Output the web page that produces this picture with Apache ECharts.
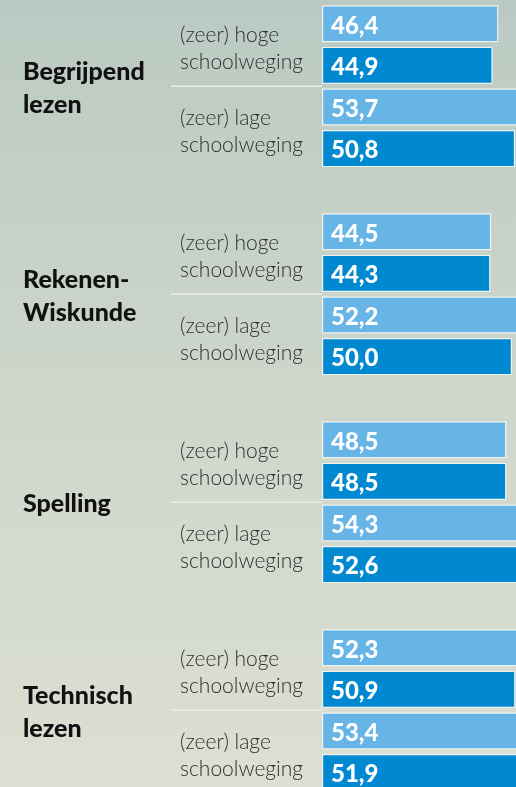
<!DOCTYPE html>
<html>
<head>
<meta charset="utf-8">
<script src="https://cdn.jsdelivr.net/npm/echarts@6/dist/echarts.min.js"></script>
<style>
  html, body { margin: 0; padding: 0; }
  #main { width: 516px; height: 787px; }
</style>
</head>
<body>
<div id="main"></div>
<script>
// vakgebieden en groepen
var vakken = ['Begrijpend\nlezen', 'Rekenen-\nWiskunde', 'Spelling', 'Technisch\nlezen'];
var groepen = ['(zeer) hoge\nschoolweging', '(zeer) lage\nschoolweging'];

// scores per vak (licht = bovenste balk, donker = onderste balk)
var hogeLicht = [46.4, 44.5, 48.5, 52.3];
var hogeDonker = [44.9, 44.3, 48.5, 50.9];
var lageLicht = [53.7, 52.2, 54.3, 53.4];
var lageDonker = [50.8, 50.0, 52.6, 51.9];

// rijen opbouwen: 4 balken per vak, lege rij ertussen
let rows = [];
let lichtData = [];
let donkerData = [];
for (let v = 0; v < vakken.length; v++) {
  rows.push(v + '-hl'); lichtData.push(hogeLicht[v]); donkerData.push(null);
  rows.push(v + '-hd'); lichtData.push(null); donkerData.push(hogeDonker[v]);
  rows.push(v + '-ll'); lichtData.push(lageLicht[v]); donkerData.push(null);
  rows.push(v + '-ld'); lichtData.push(null); donkerData.push(lageDonker[v]);
  if (v < vakken.length - 1) {
    rows.push(v + '-gap'); lichtData.push(null); donkerData.push(null);
  }
}

let valueLabel = {
  show: true,
  position: 'insideLeft',
  distance: 9,
  offset: [0, 2],
  color: '#fff',
  fontFamily: 'Lato',
  fontWeight: 900,
  fontSize: 24,
  formatter: function (p) {
    return p.value == null ? '' : p.value.toFixed(1).replace('.', ',');
  }
};

let option = {
  animation: false,
  backgroundColor: {
    type: 'linear', x: 0, y: 0, x2: 0, y2: 1,
    colorStops: [
      { offset: 0, color: '#bacac2' },
      { offset: 0.5, color: '#ced6cb' },
      { offset: 1, color: '#dcdfd2' }
    ]
  },
  grid: {
    left: 322,
    top: 3,
    right: -34,
    bottom: -6.4,
    outerBoundsMode: 'none'
  },
  xAxis: {
    type: 'value',
    min: 0,
    max: 60,
    show: false
  },
  yAxis: {
    type: 'category',
    data: rows,
    inverse: true,
    show: false
  },
  series: [
    {
      name: 'licht',
      type: 'bar',
      data: lichtData,
      barWidth: 37,
      barGap: '-100%',
      itemStyle: { color: '#67b4e6', borderColor: '#eef3f2', borderWidth: 1.2 },
      label: valueLabel
    },
    {
      name: 'donker',
      type: 'bar',
      data: donkerData,
      barWidth: 37,
      barGap: '-100%',
      itemStyle: { color: '#0088d1', borderColor: '#eef3f2', borderWidth: 1.2 },
      label: valueLabel
    }
  ]
};

let chart = echarts.init(document.getElementById('main'), null, { renderer: 'canvas' });
chart.setOption(option);

// labels en scheidingslijnen via de schaal van de categorie-as
function rowY(i) {
  return chart.convertToPixel({ yAxisIndex: 0 }, rows[i]);
}

let graphics = [];
for (let v = 0; v < vakken.length; v++) {
  let b = v * 5;
  let hogeY = (rowY(b) + rowY(b + 1)) / 2;
  let lageY = (rowY(b + 2) + rowY(b + 3)) / 2;
  let sepY = (rowY(b + 1) + rowY(b + 2)) / 2;

  graphics.push({
    type: 'text', x: 23, y: sepY + 2,
    style: {
      text: vakken[v], fill: '#111', fontFamily: 'Lato', fontWeight: 900,
      fontSize: 25, lineHeight: 33, align: 'left', verticalAlign: 'middle'
    }
  });
  [hogeY, lageY].forEach(function (y, k) {
    graphics.push({
      type: 'text', x: 180, y: y + 4,
      style: {
        text: groepen[k], fill: '#2e2e2e', fontFamily: 'Lato', fontWeight: 300,
        fontSize: 21, lineHeight: 27, align: 'left', verticalAlign: 'middle'
      }
    });
  });
  graphics.push({
    type: 'line',
    shape: { x1: 171, y1: sepY, x2: 322, y2: sepY },
    style: { stroke: '#e9eee9', lineWidth: 1.5 }
  });
}

chart.setOption({ graphic: graphics });
</script>
</body>
</html>
